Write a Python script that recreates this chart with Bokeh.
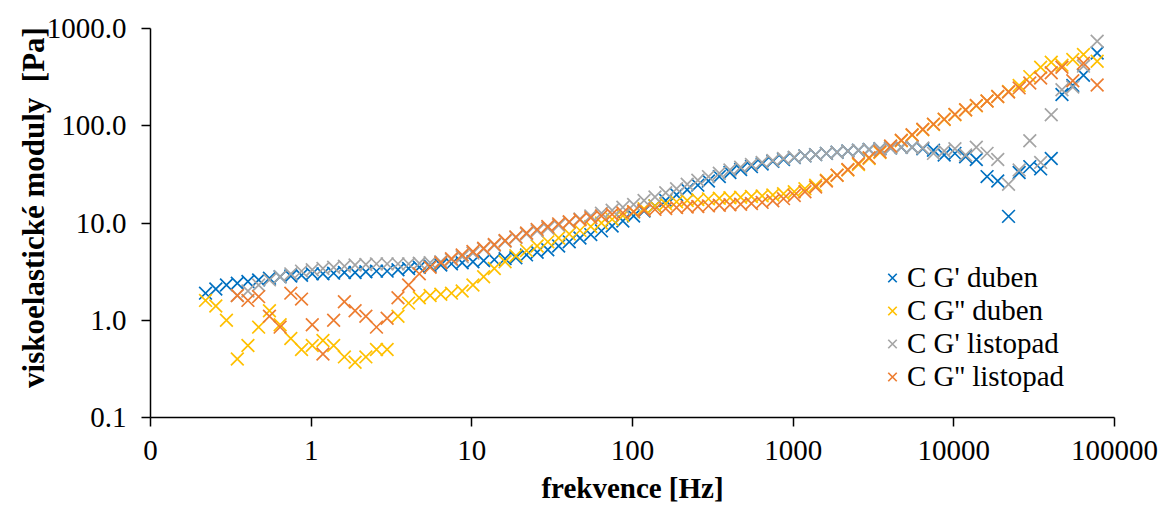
from bokeh.plotting import figure
from bokeh.models import Range1d, FixedTicker, Legend, LegendItem
from bokeh.embed import file_html
from bokeh.resources import INLINE

nan = float("nan")

# frequency [Hz]
freq = [0.22, 0.255, 0.297, 0.347, 0.404, 0.471, 0.55, 0.641, 0.747, 0.871,
        1.016, 1.184, 1.38, 1.61, 1.876, 2.19, 2.55, 2.97, 3.47, 4.04,
        4.71, 5.5, 6.41, 7.47, 8.71, 10.16, 11.84, 13.8, 16.1, 18.8,
        21.9, 25.5, 29.7, 34.7, 40.4, 47.1, 55.0, 64.1, 74.7, 87.1,
        101.6, 118, 138, 161, 188, 219, 255, 297, 347, 404,
        471, 550, 641, 747, 871, 1016, 1184, 1380, 1610, 1876,
        2190, 2550, 2970, 3470, 4040, 4710, 5500, 6410, 7470, 8710,
        10160, 11840, 13800, 16100, 18760, 21900, 25500, 29700, 34700, 40400,
        47100, 55000, 64100, 78000]

# C G' duben
g1_duben = [1.9, 2.1, 2.3, 2.4, 2.5, 2.6, 2.7, 2.8, 2.85, 2.9,
            3.0, 3.0, 3.05, 3.1, 3.1, 3.15, 3.2, 3.2, 3.3, 3.4,
            3.5, 3.6, 3.7, 3.8, 3.9, 4.0, 4.1, 4.2, 4.3, 4.4,
            4.7, 5.0, 5.3, 5.8, 6.4, 7.0, 7.6, 8.3, 9.3, 10.5,
            11.8, 13.3, 15.0, 17.0, 19.5, 22.0, 24.5, 27.0, 30.0, 33.0,
            35.5, 38.0, 40.5, 43.0, 45.0, 47.0, 49.0, 50.5, 52.0, 53.5,
            55.0, 56.0, 57.0, 58.0, 59.0, 60.0, 60.0, 58.0, 56.0, 50.0,
            52.0, 48.0, 45.0, 30.0, 27.0, 11.7, 33.0, 38.0, 36.0, 46.0,
            210.0, 260.0, 330.0, 560.0]

# C G'' duben
g2_duben = [1.6, 1.4, 1.0, 0.4, 0.55, 0.85, 1.25, 0.9, 0.65, 0.5,
            0.55, 0.62, 0.55, 0.42, 0.37, 0.42, 0.5, 0.5, 1.1, 1.5,
            1.7, 1.8, 1.85, 1.9, 2.0, 2.3, 2.8, 3.4, 4.0, 4.6,
            5.2, 5.8, 6.4, 7.0, 7.7, 8.4, 9.2, 10.0, 10.9, 11.9,
            13.0, 14.0, 15.0, 15.8, 16.5, 17.0, 17.4, 17.7, 18.0, 18.2,
            18.4, 18.7, 19.0, 19.4, 20.0, 21.0, 22.5, 24.5, 27.5, 31.0,
            35.0, 40.0, 46.0, 53.0, 61.0, 70.0, 80.0, 91.0, 103.0, 116.0,
            130.0, 145.0, 160.0, 180.0, 200.0, 225.0, 260.0, 320.0, 400.0, 450.0,
            420.0, 480.0, 540.0, 460.0]

# C G' listopad
g1_listopad = [nan, nan, nan, 1.8, 2.0, 2.3, 2.6, 2.8, 3.0, 3.2,
               3.3, 3.4, 3.5, 3.6, 3.7, 3.75, 3.8, 3.8, 3.8, 3.8,
               3.85, 3.9, 4.0, 4.2, 4.5, 4.9, 5.4, 5.9, 6.5, 7.1,
               7.7, 8.3, 8.9, 9.5, 10.2, 11.0, 11.8, 12.6, 13.5, 14.5,
               15.5, 17.0, 18.5, 20.5, 22.5, 25.0, 27.5, 30.0, 32.5, 35.0,
               37.5, 40.0, 42.0, 44.0, 46.0, 47.5, 49.0, 50.5, 52.0, 53.5,
               55.0, 56.0, 57.0, 58.0, 59.0, 60.0, 60.0, 59.0, 52.0, 55.0,
               58.0, 50.0, 60.0, 52.0, 45.0, 25.0, 35.0, 70.0, 42.0, 130.0,
               235.0, 250.0, 410.0, 740.0]

# C G'' listopad
g2_listopad = [nan, nan, nan, 1.8, 1.6, 1.75, 1.1, 0.85, 1.9, 1.65,
               0.9, 0.45, 1.0, 1.55, 1.25, 1.1, 0.85, 1.05, 1.7, 2.3,
               3.0, 3.5, 3.9, 4.3, 4.7, 5.1, 5.5, 6.0, 6.6, 7.2,
               7.9, 8.6, 9.2, 9.8, 10.3, 10.8, 11.3, 11.8, 12.3, 12.7,
               13.1, 13.5, 13.8, 14.1, 14.4, 14.6, 14.8, 15.0, 15.2, 15.4,
               15.6, 15.9, 16.3, 16.9, 17.8, 19.2, 21.0, 23.5, 27.0, 31.0,
               35.5, 41.0, 47.0, 54.0, 62.0, 71.0, 81.0, 92.0, 104.0, 117.0,
               131.0, 146.0, 162.0, 180.0, 200.0, 222.0, 245.0, 275.0, 310.0, 350.0,
               400.0, 290.0, 440.0, 262.0]

series_names = ["C G' duben", "C G'' duben", "C G' listopad", "C G'' listopad"]
series_values = [g1_duben, g2_duben, g1_listopad, g2_listopad]
colors = ["#0070C0", "#FFC000", "#A5A5A5", "#ED7D31"]

x_ticks = [0.1, 1, 10, 100, 1000, 10000, 100000]
x_tick_labels = ["0", "1", "10", "100", "1000", "10000", "100000"]
y_ticks = [0.1, 1, 10, 100, 1000]
y_tick_labels = ["0.1", "1.0", "10.0", "100.0", "1000.0"]

x_title = "frekvence [Hz]"
# leading no-break spaces shift the centred title slightly upwards, as in the reference
y_title = "\u00a0\u00a0\u00a0\u00a0viskoelastické moduly \u00a0[Pa]"

FONT = "Liberation Serif"

p = figure(width=1160, height=506,
           x_axis_type="log", y_axis_type="log",
           x_range=Range1d(x_ticks[0], x_ticks[-1]),
           y_range=Range1d(y_ticks[0], y_ticks[-1]),
           output_backend="svg", toolbar_location=None,
           min_border_left=150, min_border_right=46,
           min_border_top=28, min_border_bottom=88)
p.grid.visible = False
p.outline_line_color = None
p.background_fill_color = "white"
p.border_fill_color = "white"

renderers = []
for ys, c in zip(series_values, colors):
    r = p.scatter(freq, ys, marker="x", size=18, line_color=c, line_width=1.7)
    renderers.append(r)

for ax in (p.xaxis[0], p.yaxis[0]):
    ax.axis_line_color = "black"
    ax.axis_line_width = 1.5
    ax.major_tick_line_color = "black"
    ax.major_tick_line_width = 1.5
    ax.major_tick_out = 9
    ax.major_tick_in = 0
    ax.minor_tick_line_color = None
    ax.major_label_text_font = FONT
    ax.major_label_text_font_size = "29px"
    ax.major_label_text_color = "black"
    ax.axis_label_text_font = FONT
    ax.axis_label_text_font_style = "bold"
    ax.axis_label_text_color = "black"

p.xaxis.ticker = FixedTicker(ticks=x_ticks)
p.xaxis.major_label_overrides = {float(t): s for t, s in zip(x_ticks, x_tick_labels)}
p.xaxis.major_label_standoff = 14
p.xaxis.axis_label = x_title
p.xaxis.axis_label_text_font_size = "29px"
p.xaxis.axis_label_standoff = 9

p.yaxis.ticker = FixedTicker(ticks=y_ticks)
p.yaxis.major_label_overrides = {float(t): s for t, s in zip(y_ticks, y_tick_labels)}
p.yaxis.major_label_standoff = 15
p.yaxis.axis_label = y_title
p.yaxis.axis_label_text_font_size = "31px"
p.yaxis.axis_label_standoff = -7

legend = Legend(items=[LegendItem(label=n, renderers=[r]) for n, r in zip(series_names, renderers)],
                location=(727, 24.5), orientation="vertical")
legend.border_line_color = None
legend.background_fill_alpha = 0
legend.padding = 0
legend.margin = 0
legend.spacing = 0
legend.glyph_width = 30
legend.glyph_height = 33
legend.label_height = 33
legend.label_standoff = 0
legend.label_text_font = FONT
legend.label_text_font_size = "29px"
legend.label_text_color = "black"
p.add_layout(legend)

open("out.html", "w").write(file_html(p, INLINE))
